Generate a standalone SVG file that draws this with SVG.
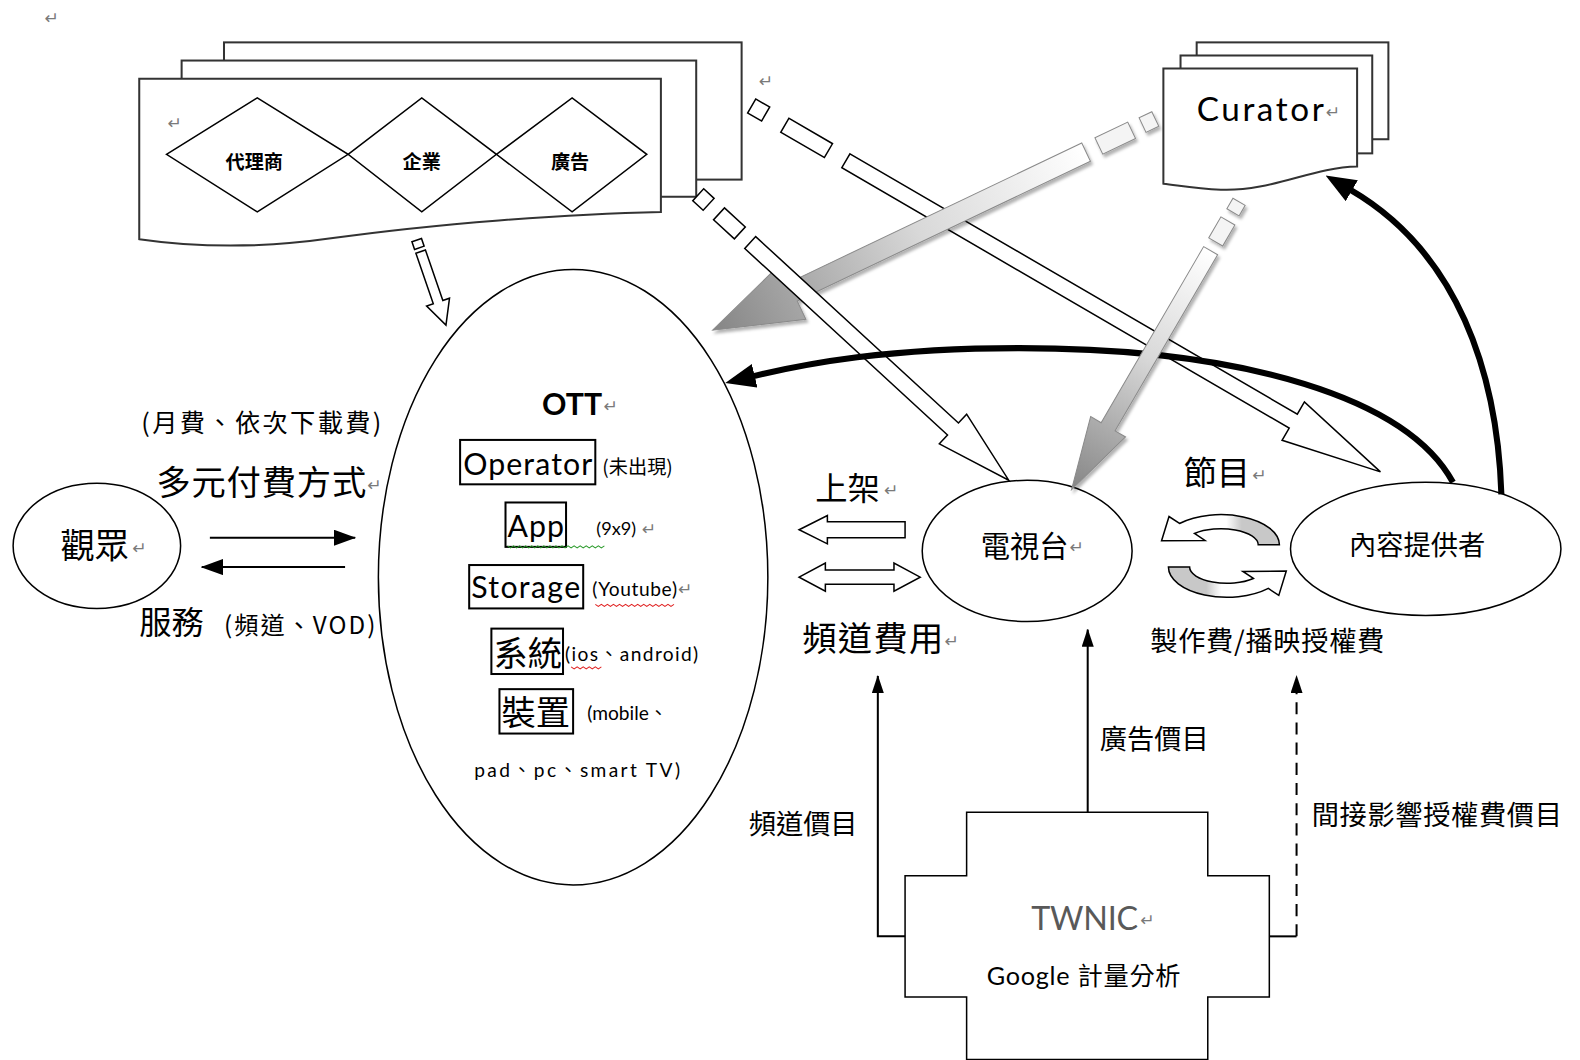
<svg xmlns="http://www.w3.org/2000/svg" width="1580" height="1060" viewBox="0 0 1580 1060">
<defs>
<style>
.s{fill:#fff;stroke:#000;stroke-width:1.5}
.pg{fill:#fff;stroke:#333;stroke-width:2}
.bx{fill:none;stroke:#000;stroke-width:2}
.ln{fill:none;stroke:#000;stroke-width:2}
.cjk{font-family:"Noto Sans CJK TC","Noto Sans CJK SC",sans-serif;fill:#000}
.lat{font-family:Lato,"Noto Sans CJK TC",sans-serif;fill:#000}
.pm{font-family:"DejaVu Sans",sans-serif;fill:#7a7a7a;font-size:17px}
.ho{fill:#fff;stroke:#000;stroke-width:1.5}
.gr{fill:url(#gg);stroke:#8a8a8a;stroke-width:1}
.gd{fill:#f4f4f4;stroke:#8a8a8a;stroke-width:1}
.cy{fill:url(#cg);stroke:#000;stroke-width:1.5}
</style>
<linearGradient id="gg" x1="0" y1="0" x2="1" y2="0">
<stop offset="0" stop-color="#ffffff"/>
<stop offset="0.45" stop-color="#d8d8d8"/>
<stop offset="1" stop-color="#858585"/>
</linearGradient>
<linearGradient id="cg" x1="0" y1="0" x2="1" y2="0">
<stop offset="0" stop-color="#fff"/>
<stop offset="0.55" stop-color="#fff"/>
<stop offset="0.68" stop-color="#c8c8c8"/>
<stop offset="1" stop-color="#c8c8c8"/>
</linearGradient>
<filter id="sh" x="-20%" y="-20%" width="140%" height="140%">
<feDropShadow dx="2" dy="3" stdDeviation="1.5" flood-color="#000" flood-opacity="0.3"/>
</filter>
<marker id="ah" viewBox="0 0 18 12" refX="17" refY="6" markerWidth="18" markerHeight="12" markerUnits="userSpaceOnUse" orient="auto">
<path d="M0,0 L18,6 L0,12 Z" fill="#000"/>
</marker>
<marker id="ah2" viewBox="0 0 22 16" refX="21" refY="8" markerWidth="22" markerHeight="16" markerUnits="userSpaceOnUse" orient="auto">
<path d="M0,0 L22,8 L0,16 Z" fill="#000"/>
</marker>
<marker id="ahb" viewBox="0 0 30 24" refX="2" refY="12" markerWidth="30" markerHeight="24" markerUnits="userSpaceOnUse" orient="auto">
<path d="M0,0 L30,12 L0,24 Z" fill="#000"/>
</marker>
</defs>
<rect width="1580" height="1060" fill="#fff"/>
<g transform="scale(1.009)">
<text class="pm" x="44" y="24">↵</text>

<!-- Top-left stacked document with diamonds -->
<g id="agents">
<rect class="pg" x="222" y="42" width="513" height="136"/>
<rect class="pg" x="180" y="60" width="510" height="135"/>
<path class="pg" d="M138,78 H655 V210 C560,212 430,222 330,236 C260,246 200,246 138,237 Z"/>
<text class="pm" x="166" y="128">↵</text>
<path class="s" d="M165,153 L255,97 L345,153 L255,210 Z"/>
<path class="s" d="M345,153 L418,97 L492,153 L418,210 Z"/>
<path class="s" d="M492,153 L567,97 L641,153 L567,210 Z"/>
<text class="cjk" x="252" y="167" font-size="19" font-weight="700" text-anchor="middle">代理商</text>
<text class="cjk" x="418" y="167" font-size="19" font-weight="700" text-anchor="middle">企業</text>
<text class="cjk" x="565" y="167" font-size="19" font-weight="700" text-anchor="middle">廣告</text>
</g>
<text class="pm" x="752" y="86">↵</text>

<!-- Curator stacked document -->
<g id="curator">
<rect class="pg" x="1186" y="42" width="190" height="96"/>
<rect class="pg" x="1170" y="55" width="190" height="97"/>
<path class="pg" d="M1153,68 H1345 V165 C1300,166 1260,190 1210,188 C1185,187 1170,184 1153,182 Z"/>
<text class="lat" x="1186" y="120" font-size="33" textLength="126">Curator</text>
<text class="pm" x="1314" y="117">↵</text>
</g>

<!-- Audience -->
<g id="audience">
<ellipse class="s" cx="96" cy="541" rx="83" ry="62"/>
<text class="cjk" x="60" y="553" font-size="34">觀眾</text>
<text class="pm" x="131" y="549">↵</text>
</g>

<!-- OTT -->
<g id="ott">
<ellipse class="s" cx="568" cy="572" rx="193" ry="305"/>
<text class="lat" x="567" y="411" font-size="30" font-weight="700" text-anchor="middle">OTT</text>
<text class="pm" x="598" y="408">↵</text>
<rect class="bx" x="456" y="436" width="134" height="44"/>
<text class="lat" x="459" y="471" font-size="30" textLength="128">Operator</text>
<text class="cjk" x="597" y="470" font-size="19">(未出現)</text>
<rect class="bx" x="501" y="498" width="60" height="44"/>
<text class="lat" x="503" y="532" font-size="30" textLength="56">App</text>
<path d="M503,541 l3,2 l3,-2 l3,2 l3,-2 l3,2 l3,-2 l3,2 l3,-2 l3,2 l3,-2 l3,2 l3,-2 l3,2 l3,-2 l3,2 l3,-2 l3,2 l3,-2 l3,2 l3,-2 l3,2 l3,-2 l3,2 l3,-2 l3,2 l3,-2 l3,2 l3,-2 l3,2 l3,-2 l3,2 l3,-2" fill="none" stroke="#2a9a2a" stroke-width="1"/>
<text class="lat" x="591" y="530" font-size="18">(9x9)</text>
<text class="pm" x="636" y="530">↵</text>
<rect class="bx" x="465" y="560" width="113" height="43"/>
<text class="lat" x="467" y="593" font-size="30" textLength="108">Storage</text>
<text class="lat" x="587" y="591" font-size="19" textLength="84">(Youtube)</text>
<path d="M590,599 l3,2 l3,-2 l3,2 l3,-2 l3,2 l3,-2 l3,2 l3,-2 l3,2 l3,-2 l3,2 l3,-2 l3,2 l3,-2 l3,2 l3,-2 l3,2 l3,-2 l3,2 l3,-2 l3,2 l3,-2 l3,2 l3,-2 l3,2 l3,-2" fill="none" stroke="#e02020" stroke-width="1"/>
<text class="pm" x="672" y="590">↵</text>
<rect class="bx" x="487" y="623" width="71" height="45"/>
<text class="cjk" x="489" y="660" font-size="34">系統</text>
<text class="lat" x="560" y="655" font-size="19" textLength="132">(ios、android)</text>
<path d="M566,661 l3,2 l3,-2 l3,2 l3,-2 l3,2 l3,-2 l3,2 l3,-2 l3,2 l3,-2" fill="none" stroke="#e02020" stroke-width="1"/>
<rect class="bx" x="495" y="683" width="73" height="44"/>
<text class="cjk" x="497" y="719" font-size="34">裝置</text>
<text class="lat" x="582" y="714" font-size="19">(mobile、</text>
<text class="lat" x="470" y="770" font-size="19" textLength="204">pad、pc、smart TV)</text>
</g>

<!-- left labels -->
<g id="audience-labels">
<text class="cjk" x="140" y="428" font-size="25" textLength="238">(月費、依次下載費)</text>
<text class="cjk" x="155" y="491" font-size="34" textLength="208">多元付費方式</text>
<text class="pm" x="364" y="487">↵</text>
<text class="cjk" x="138" y="628" font-size="32">服務</text>
<text class="cjk" x="222" y="628" font-size="24" textLength="150">(頻道、VOD)</text>
</g>

<!-- TV station -->
<g id="tv">
<ellipse class="s" cx="1018" cy="546" rx="104" ry="70"/>
<text class="cjk" x="972" y="552" font-size="29">電視台</text>
<text class="pm" x="1060" y="548">↵</text>
</g>

<!-- Content provider -->
<g id="provider">
<ellipse class="s" cx="1413" cy="544" rx="134" ry="66"/>
<text class="cjk" x="1337" y="550" font-size="27">內容提供者</text>
</g>

<!-- TWNIC -->
<g id="twnic">
<path class="s" d="M958,805 H1197 V868 H1258 V988 H1197 V1050 H958 V988 H897 V868 H958 Z"/>
<text x="1022" y="922" font-family="Lato, sans-serif" font-size="32" fill="#595959" textLength="106">TWNIC</text>
<text class="pm" x="1130" y="918">↵</text>
<text class="lat" x="978" y="976" font-size="25" textLength="192">Google 計量分析</text>
</g>

<!-- middle / right labels -->
<g id="labels">
<text class="cjk" x="808" y="496" font-size="32">上架</text>
<text class="pm" x="876" y="492">↵</text>
<text class="cjk" x="795" y="645" font-size="34" textLength="140">頻道費用</text>
<text class="pm" x="936" y="641">↵</text>
<text class="cjk" x="1173" y="481" font-size="33">節目</text>
<text class="pm" x="1241" y="477">↵</text>
<text class="cjk" x="1140" y="645" font-size="27" textLength="232">製作費/播映授權費</text>
<text class="cjk" x="1090" y="742" font-size="27">廣告價目</text>
<text class="cjk" x="742" y="827" font-size="27">頻道價目</text>
<text class="cjk" x="1300" y="818" font-size="27" textLength="248">間接影響授權費價目</text>
</g>

<g id="connectors">
<!-- audience <-> OTT -->
<line class="ln" x1="208" y1="533" x2="352" y2="533" stroke-width="3" marker-end="url(#ah2)"/>
<line class="ln" x1="342" y1="562" x2="200" y2="562" stroke-width="3" marker-end="url(#ah2)"/>

<!-- hollow arrows at TV -->
<path class="ho" d="M792,525 L820,511 L820,517 L897,517 L897,533 L820,533 L820,539 Z"/>
<path class="ho" d="M792,572 L818,558 L818,565 L886,565 L886,558 L912,572 L886,586 L886,579 L818,579 L818,586 Z"/>

<!-- cycle arrows -->
<path class="cy" d="M1247,540 L1268,540 A58,30 0 0 0 1169,518.8 L1158.6,511.9 L1151.2,536 L1194.2,535.6 L1183.8,528.7 A37,16 0 0 1 1247,540 Z"/>
<path class="cy" transform="rotate(180 1213 551)" d="M1247,540 L1268,540 A58,30 0 0 0 1169,518.8 L1158.6,511.9 L1151.2,536 L1194.2,535.6 L1183.8,528.7 A37,16 0 0 1 1247,540 Z"/>

<!-- arrow 1: agents -> provider -->
<g transform="translate(745,105) rotate(30.2)">
<rect class="ho" x="0" y="-8" width="16" height="16"/>
<rect class="ho" x="38" y="-8" width="50" height="16"/>
<path class="ho" d="M108,-8 L621,-8 L621,-22 L721,0 L621,22 L621,8 L108,8 Z"/>
</g>

<!-- arrow 3: curator -> OTT (gray) -->
<g filter="url(#sh)">
<g transform="translate(1145,118) rotate(154.5)">
<rect class="gd" x="0" y="-8" width="14" height="16"/>
<rect class="gd" x="26" y="-9" width="36" height="18"/>
<path class="gr" d="M76,-10 L398,-10 L398,-30 L486,0 L398,30 L398,10 L76,10 Z"/>
</g>
</g>

<!-- arrow 2: agents -> TV -->
<g transform="translate(692,193) rotate(42.6)">
<rect class="ho" x="0" y="-8" width="14" height="16"/>
<rect class="ho" x="28" y="-8" width="28" height="16"/>
<path class="ho" d="M70,-8 L343,-8 L343,-20 L418,0 L343,20 L343,8 L70,8 Z"/>
</g>

<!-- thick curves -->
<path d="M1440,478 C1395,395 1235,345 1010,345 C880,345 800,360 746,373" fill="none" stroke="#000" stroke-width="6" marker-end="url(#ahb)"/>
<path d="M1488,490 C1484,370 1445,250 1338,188" fill="none" stroke="#000" stroke-width="6" marker-end="url(#ahb)"/>

<!-- arrow 4: curator -> TV (gray) -->
<g filter="url(#sh)">
<g transform="translate(1228,200) rotate(120.2)">
<rect class="gd" x="0" y="-7" width="12" height="14"/>
<rect class="gd" x="22" y="-8" width="24" height="16"/>
<path class="gr" d="M56,-8 L258,-8 L258,-20 L330,0 L258,20 L258,8 L56,8 Z"/>
</g>
</g>

<!-- arrow 5: agents -> OTT -->
<g transform="translate(413,238) rotate(71)">
<rect class="ho" x="0" y="-5" width="8" height="10"/>
<path class="ho" d="M12,-5 L65,-5 L65,-12 L89,0 L65,12 L65,5 L12,5 Z"/>
</g>

<!-- TWNIC connectors -->
<polyline class="ln" points="897,928 870,928 870,670" marker-end="url(#ah)"/>
<line class="ln" x1="1078" y1="805" x2="1078" y2="624" marker-end="url(#ah)"/>
<line class="ln" x1="1258" y1="928" x2="1285" y2="928"/>
<line class="ln" x1="1285" y1="928" x2="1285" y2="670" stroke-dasharray="12,8" marker-end="url(#ah)"/>
</g>
</g>
</svg>
